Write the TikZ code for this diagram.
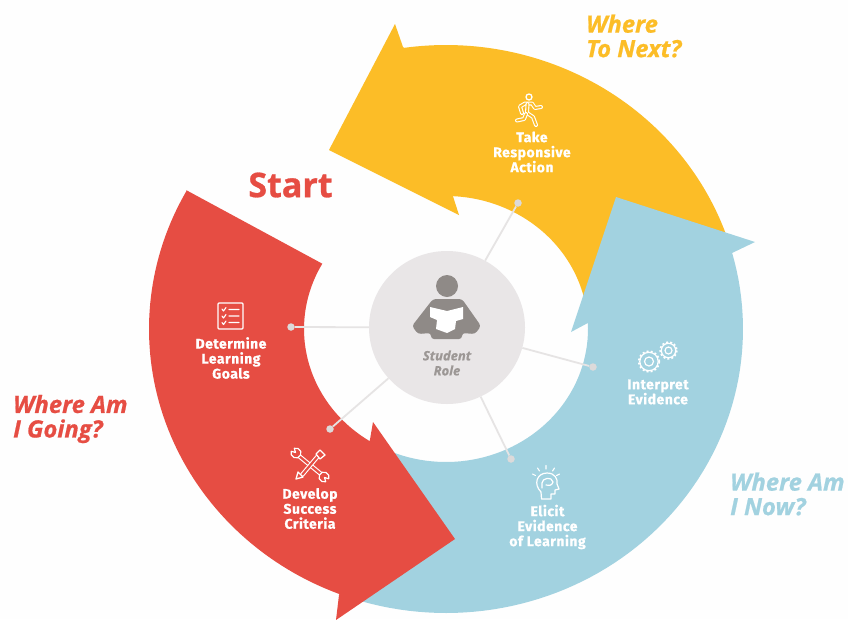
\documentclass[tikz,border=0pt]{standalone}
\usepackage{fontspec}
\usetikzlibrary{shapes.geometric}
\setmainfont{Fira Sans}
\newfontfamily\labfont[LetterSpace=3.5,BoldFeatures={FakeBold=0.7}]{Fira Sans}
\newfontfamily\headfont[BoldFeatures={FakeBold=0.8},BoldItalicFeatures={FakeBold=0.8}]{Open Sans}
\definecolor{cred}{HTML}{E64D43}
\definecolor{cyel}{HTML}{FCBD27}
\definecolor{cblu}{HTML}{A2D2E0}
\definecolor{chub}{HTML}{E9E6E7}
\definecolor{cico}{HTML}{8F8A87}
\definecolor{clin}{HTML}{E6E4E4}
\definecolor{cdot}{HTML}{DCDADA}
\definecolor{ctxt}{HTML}{9C9795}
\definecolor{cbg}{HTML}{FEFEFE}
\tikzset{
  outarc/.style 2 args={insert path={-- plot[domain=#1:#2,samples=70] ({446+297*cos(\x)},{329+284*sin(\x)})}},
  inarc/.style 2 args={insert path={-- plot[domain=#1:#2,samples=50] ({446+142*cos(\x)},{329+133*sin(\x)})}},
  steplabel/.style={text=white,align=center,inner sep=0pt,font=\fontsize{14}{15}\selectfont\labfont\bfseries},
  headtext/.style={align=left,anchor=west,inner sep=0pt,font=\fontsize{23.8}{24.5}\selectfont\headfont\bfseries\itshape},
  dotnode/.style={circle,fill=cdot,draw=none,minimum size=7.5pt,inner sep=0pt},
  spoke/.style={draw=clin,line width=1.8pt},
  ico/.style={draw=white,line width=1.3pt,line cap=round,line join=round,fill=none},
  limb/.style={draw=white,line width=1.1pt,double=cyel,double distance=1.8pt,line cap=round,line join=round},
  limbtwo/.style={draw=white,line width=1.1pt,double=cred,double distance=2.2pt,line join=round},
}
\begin{document}
\begin{tikzpicture}[x=1pt,y=-1pt]
\useasboundingbox (0,0) rectangle (848,619);
\fill[cbg] (0,0) rectangle (848,619);
% yellow arrow
\fill[cyel] (329,150) -- (395,24) -- (403,47) [outarc={-98.1}{-17}] [inarc={-8}{-87.2}] -- (459,215) -- cycle;
% blue arrow
\fill[cblu] (616,197) -- (755,242) -- (732,253) [outarc={-15.5}{110}] [inarc={115}{-2.6}] -- (571,332) -- cycle;
% red arrow
\fill[cred] (186,190) -- (321,263) [inarc={209.4}{122.5}] -- (373,422) -- (455,539) -- (336,620) -- (339,595) [outarc={111}{209.2}] -- cycle;
% hub and spokes
\node[ellipse,fill=chub,minimum width=156pt,minimum height=153pt,inner sep=0pt] (hub) at (447,327.5) {};
\node[dotnode] (d1) at (518,203) {};
\node[dotnode] (d2) at (593,367) {};
\node[dotnode] (d3) at (511,459) {};
\node[dotnode] (d4) at (330,429) {};
\node[dotnode] (d5) at (291,327) {};
\draw[spoke] (hub) -- (d1);
\draw[spoke] (hub) -- (d2);
\draw[spoke] (hub) -- (d3);
\draw[spoke] (hub) -- (d4);
\draw[spoke] (hub) -- (d5);
% person
\fill[cico] (447,286) circle[radius=11];
\fill[cico,rounded corners=3pt] (433,299) -- (462,299) -- (481,326) -- (475,334) -- (462,333) -- (462,339) -- (431,339) -- (431,333) -- (418,334) -- (412,326) -- cycle;
\fill[white] (430,307) -- (447,311) -- (463,307) -- (463,319) -- (456,321) -- (455,329) -- (447,333) -- (436,329) -- (437,320) -- (430,317) -- cycle;
\node[inner sep=0pt,align=center,text=ctxt,font=\fontsize{13}{15}\selectfont\headfont\bfseries\itshape] (role) at (447,363) {Student\\Role};
% step labels
\node[steplabel] (determine) at (231,358) {Determine\\Learning\\Goals};
\node[steplabel] (develop) at (310,508.5) {Develop\\Success\\Criteria};
\node[steplabel] (elicit) at (547.5,527) {Elicit\\Evidence\\of Learning};
\node[steplabel] (interpret) at (658,392) {Interpret\\Evidence};
\node[steplabel] (take) at (532,152) {Take\\Responsive\\Action};
% headings
\node[text=cred,inner sep=0pt,font=\fontsize{34}{36}\selectfont\headfont\bfseries] (start) at (290.5,185) {Start};
\node[headtext,text=cred] (going) at (13,419) {Where Am\\I Going?};
\node[headtext,text=cyel] (next) at (586,36) {Where\\To Next?};
\node[headtext,text=cblu] (now) at (730,494) {Where Am\\I Now?};
% checklist icon
\draw[ico,rounded corners=1pt] (218,303) rectangle (243,329);
\draw[ico,line width=1.1pt] (222,309) -- (223.5,311) -- (226,307.5) (229,309.5) -- (239,309.5);
\draw[ico,line width=1.1pt] (222,316) -- (223.5,318) -- (226,314.5) (229,316) -- (239,316);
\draw[ico,line width=1.1pt] (222,322.5) -- (223.5,324.5) -- (226,321) (229,322.5) -- (239,322.5);
% runner icon
\draw[ico] (529,97) circle[radius=3];
\draw[limb] (522,113) -- (520,106.5) -- (525,103.5) -- (532,103.5) -- (535,108) -- (541,107);
\draw[limb] (527.5,104) -- (527,113) -- (533,117) -- (536,125);
\draw[limb] (526,114) -- (524,119) -- (517,120.5);
% tools icon
\draw[limbtwo] (299,456) -- (321,474);
\draw[ico,line width=1.2pt,fill=cred] (294.3,448.3) arc[start angle=250,end angle=560,radius=5] -- (295.5,452.5) -- cycle;
\draw[ico,line width=1.2pt,fill=cred] (325.7,481.7) arc[start angle=70,end angle=380,radius=5] -- (324.5,477.5) -- cycle;
\draw[limbtwo] (302,475) -- (318,456);
\draw[ico,fill=cred] (296,479) -- (298,472) -- (303,477) -- cycle;
\draw[ico,fill=cred] (316,454) -- (320,450) -- (325,455) -- (320,459) -- cycle;
% head icon
\draw[ico,line width=1.2pt] (541.5,499) -- (541,492) .. controls (533,484) and (537,473) .. (547,473) .. controls (555,473) and (558,479) .. (557,484) -- (559,489) -- (555,490) -- (555,494) -- (551,494) -- (551,499) -- cycle;
\draw[ico,line width=1.2pt] (542,488) -- (542,483) .. controls (542,478) and (552,476) .. (553,482) .. controls (552,486) and (548,486) .. (546,485);
\draw[ico,line width=1.1pt] (546,465.5) -- (546,469) (537.5,468) -- (539.5,471) (554.5,468) -- (552.5,471) (532.5,474) -- (535.5,475.5) (559.5,474) -- (556.5,475.5);
% gear icons
\draw[white,line width=1.2pt] (649,361.5) circle[radius=4.5];
\draw[white,line width=1.2pt] (649,361.5) circle[radius=9.2];
\draw[white,line width=1.6pt,dash pattern=on 2pt off 2.2pt] (649,361.5) circle[radius=10.4];
\draw[white,line width=1.2pt] (668.5,350.5) circle[radius=3.5];
\draw[white,line width=1.2pt] (668.5,350.5) circle[radius=7.2];
\draw[white,line width=1.6pt,dash pattern=on 2pt off 2.1pt] (668.5,350.5) circle[radius=8.4];
\end{tikzpicture}
\end{document}
